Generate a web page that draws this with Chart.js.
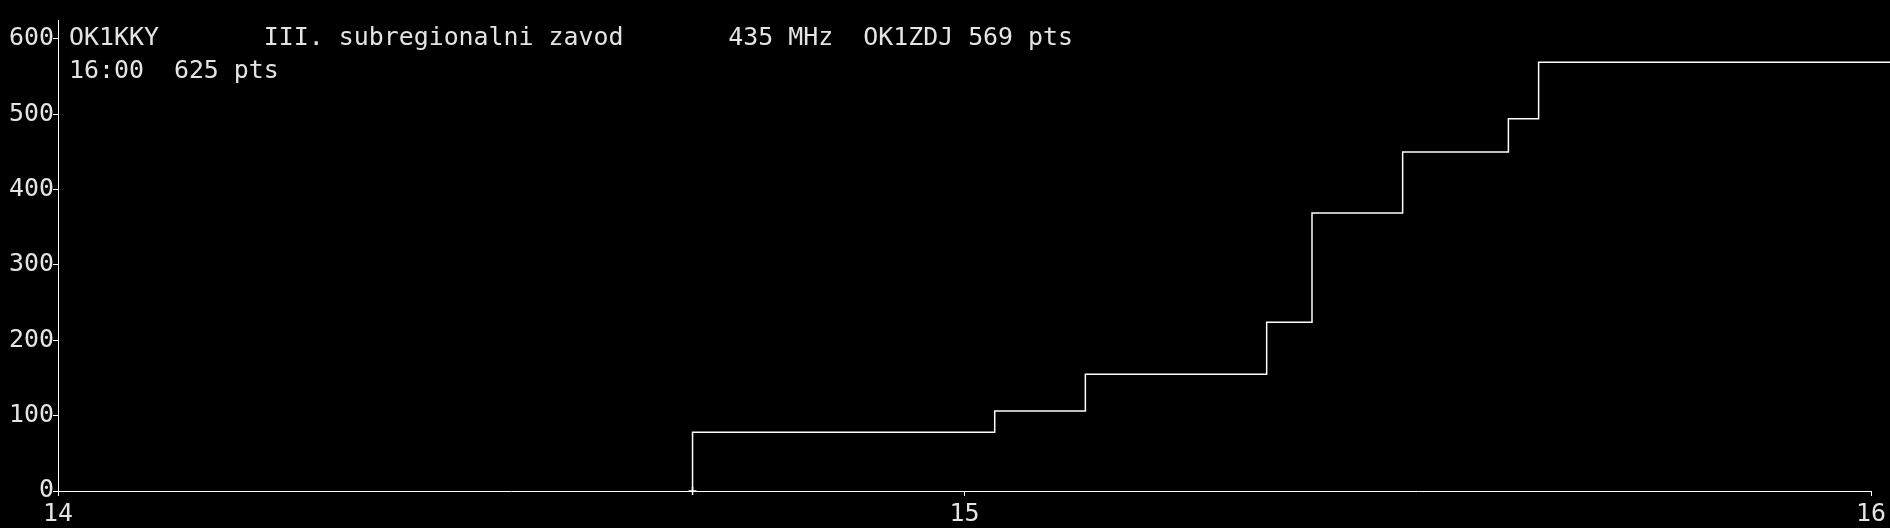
<!DOCTYPE html>
<html>
<head>
<meta charset="utf-8">
<title>OK1KKY - III. subregionalni zavod</title>
<script src="https://cdn.jsdelivr.net/npm/chart.js@4/dist/chart.umd.min.js"></script>
<style>
    html, body { margin: 0; padding: 0; background: #000; }
    #wrap { position: relative; width: 1890px; height: 528px; }
    #info {
        position: absolute; left: 69px; top: 21px;
        font-family: "DejaVu Sans Mono", monospace; font-size: 24.9px; line-height: 32.5px;
        color: #e4e4e4; white-space: pre;
    }
</style>
</head>
<body>
<div id="wrap">
    <canvas id="scoreChart" width="1890" height="528"></canvas>
    <div id="info">OK1KKY       III. subregionalni zavod       435 MHz  OK1ZDJ 569 pts
16:00  625 pts</div>
</div>
<script>
// QSO times (HH:MM) and running score
const qsoTimes = ['14:42', '14:42', '15:02', '15:08', '15:20', '15:23', '15:29', '15:36', '15:38', '16:02'];
const qsoScore = [0, 78, 106, 155, 224, 369, 450, 494, 569, 569];
const hourTicks = [14, 15, 16];
const scoreTicks = [0, 100, 200, 300, 400, 500, 600];
const scoreMax = 625;

function toHours(t) {
    const parts = t.split(':');
    return parseInt(parts[0], 10) + parseInt(parts[1], 10) / 60;
}

const points = qsoTimes.map((t, i) => ({ x: toHours(t), y: qsoScore[i] }));

const tickFont = { family: 'DejaVu Sans Mono', size: 24.9 };
const textColor = '#e4e4e4';

new Chart(document.getElementById('scoreChart').getContext('2d'), {
    type: 'line',
    data: {
        datasets: [{
            data: points,
            // horizontal first, then up at the next QSO
            stepped: 'before',
            borderColor: '#ffffff',
            borderWidth: 1.5,
            fill: false,
            clip: false,
            pointStyle: 'cross',
            pointRadius: ctx => ctx.dataIndex === 0 ? 4 : 0,
            pointBorderColor: '#ffffff',
            pointBorderWidth: 1.5
        }]
    },
    options: {
        responsive: false,
        animation: false,
        layout: { padding: { top: 20, right: 19, left: 0, bottom: 0 } },
        plugins: {
            legend: { display: false },
            tooltip: { enabled: false }
        },
        scales: {
            x: {
                type: 'linear',
                min: hourTicks[0],
                max: hourTicks[hourTicks.length - 1],
                afterBuildTicks: scale => {
                    scale.ticks = hourTicks.map(v => ({ value: v }));
                },
                afterFit: scale => { scale.height = 37; },
                border: { color: '#ffffff', width: 1 },
                grid: { drawOnChartArea: false, color: '#ffffff', tickLength: 5 },
                ticks: { color: textColor, font: tickFont, padding: 4, maxRotation: 0 }
            },
            y: {
                min: 0,
                max: scoreMax,
                afterBuildTicks: scale => {
                    scale.ticks = scoreTicks.map(v => ({ value: v }));
                },
                afterFit: scale => { scale.width = 58; },
                border: { color: '#ffffff', width: 1 },
                grid: { drawOnChartArea: false, color: '#ffffff', tickLength: 5 },
                ticks: { color: textColor, font: tickFont, padding: -1 }
            }
        }
    }
});
</script>
</body>
</html>
